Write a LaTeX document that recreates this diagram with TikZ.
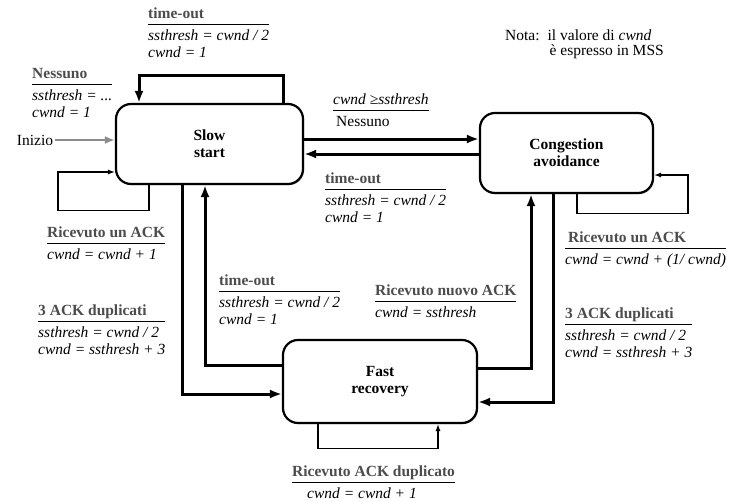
\documentclass[tikz,border=0pt]{standalone}
\usepackage{fontspec}
\setmainfont{Liberation Serif}
\usepackage{array}
\usetikzlibrary{arrows.meta,shadows}
\definecolor{evgray}{gray}{0.3}
\setlength{\arrayrulewidth}{0.8pt}
% event / action label: event, rule, actions
\newcommand{\evt}[1]{\upshape\bfseries\color{evgray}#1}
\newcommand{\trlabel}[2]{\begin{tabular}[t]{@{}>{\itshape}l@{}}#1\\[1pt]\hline\noalign{\vskip 4pt}#2\end{tabular}}
\begin{document}
\begin{tikzpicture}
[x=1pt,y=-1pt,font=\fontsize{15.5}{17}\selectfont,
  state/.style={draw,fill=white,line width=2.2pt,rounded corners=15pt,align=center,
    drop shadow={shadow xshift=1.2pt,shadow yshift=-1.2pt,fill=black!55},
    font=\fontsize{15.5}{17}\selectfont\bfseries},
  trans/.style={line width=3pt,-{Latex[length=12pt,width=9pt]}},
  ownloop/.style={line width=1.1pt,-{Latex[length=7pt,width=5pt]}},
  initarrow/.style={line width=2.6pt,black!45,-{Latex[length=10pt,width=8pt]}},
  lbl/.style={anchor=base west,inner sep=0pt}]
\useasboundingbox (0,0) rectangle (734,501);
% states
\node[state,minimum width=187pt,minimum height=80pt] (slow) at (209.5,144) {Slow\\start};
\node[state,minimum width=173pt,minimum height=80pt] (cong) at (566.5,153) {Congestion\\avoidance};
\node[state,minimum width=194pt,minimum height=83pt] (fast) at (380,381.5) {Fast\\recovery};
\node[inner sep=2pt] (inizio) at (35,140) {Inizio};
% transitions
\draw[initarrow] (inizio.east) -- (inizio.east -| slow.west);
\draw[trans] ([xshift=73.5pt]slow.north) -- ++(0,-27) -| ([xshift=-70.5pt]slow.north);
\draw[ownloop] ([xshift=-60.5pt]slow.south) -- ++(0,25) -- ++(-91,0) |- ([yshift=-28pt]slow.west);
\draw[trans] ([yshift=5pt]slow.east) -- ([yshift=14pt]cong.west);
\draw[trans] ([yshift=-1pt]cong.west) -- ([yshift=-10pt]slow.east);
\draw[ownloop] ([xshift=10.5pt]cong.south) -- ++(0,19) -- ++(111,0) |- ([yshift=-22pt]cong.east);
\draw[trans] ([xshift=-27.5pt]slow.south) |- ([yshift=-12.5pt]fast.west);
\draw[trans] ([yshift=16.5pt]fast.west) -| ([xshift=-4.5pt]slow.south);
\draw[trans] ([yshift=13.5pt]fast.east) -| ([xshift=-35.5pt]cong.south);
\draw[trans] ([xshift=-13.5pt]cong.south) |- ([yshift=-20.5pt]fast.east);
\draw[ownloop] ([xshift=-62pt]fast.south) -- ++(0,24) -| ([xshift=58pt]fast.south);
% labels
\node[lbl] (lbltop) at (148,18) {\trlabel{\evt{time-out}}{ssthresh = cwnd / 2\\cwnd = 1}};
\node[lbl] (lblinit) at (32,78) {\trlabel{\evt{Nessuno}}{ssthresh = ...\\cwnd = 1}};
\node[lbl] (lblslow) at (47,237) {\trlabel{\evt{Ricevuto un ACK}}{cwnd = cwnd + 1}};
\node[lbl] (lbldupl) at (38,315) {\trlabel{\evt{3 ACK duplicati}}{ssthresh = cwnd / 2\\cwnd = ssthresh + 3}};
\node[lbl] (lbltofs) at (219,285) {\trlabel{\evt{time-out}}{ssthresh = cwnd / 2\\cwnd = 1}};
\node[lbl] (lblsc) at (333,104) {\trlabel{cwnd ≥ssthresh}{\upshape\hspace{3pt}Nessuno}};
\node[lbl] (lblcs) at (325,183) {\trlabel{\evt{time-out}}{ssthresh = cwnd / 2\\cwnd = 1}};
\node[lbl] (lblcong) at (565,242) {\trlabel{\evt{\hspace{3pt}Ricevuto un ACK}}{cwnd = cwnd + (1/ cwnd)}};
\node[lbl] (lblfc) at (375,295) {\trlabel{\evt{Ricevuto nuovo ACK}}{cwnd = ssthresh}};
\node[lbl] (lbldupr) at (565,318) {\trlabel{\evt{3 ACK duplicati}}{ssthresh = cwnd / 2\\cwnd = ssthresh + 3}};
\node[lbl] (lblfast) at (292,476) {\trlabel{\evt{Ricevuto ACK duplicato}}{\hspace{15pt}cwnd = cwnd + 1}};
\node[lbl] (nota) at (505,40) {\begin{tabular}[t]{@{}l@{\hspace{8pt}}l@{}}Nota: & il valore di \textit{cwnd}\\[-2pt] & \hspace{2pt}è espresso in MSS\end{tabular}};
\end{tikzpicture}
\end{document}
